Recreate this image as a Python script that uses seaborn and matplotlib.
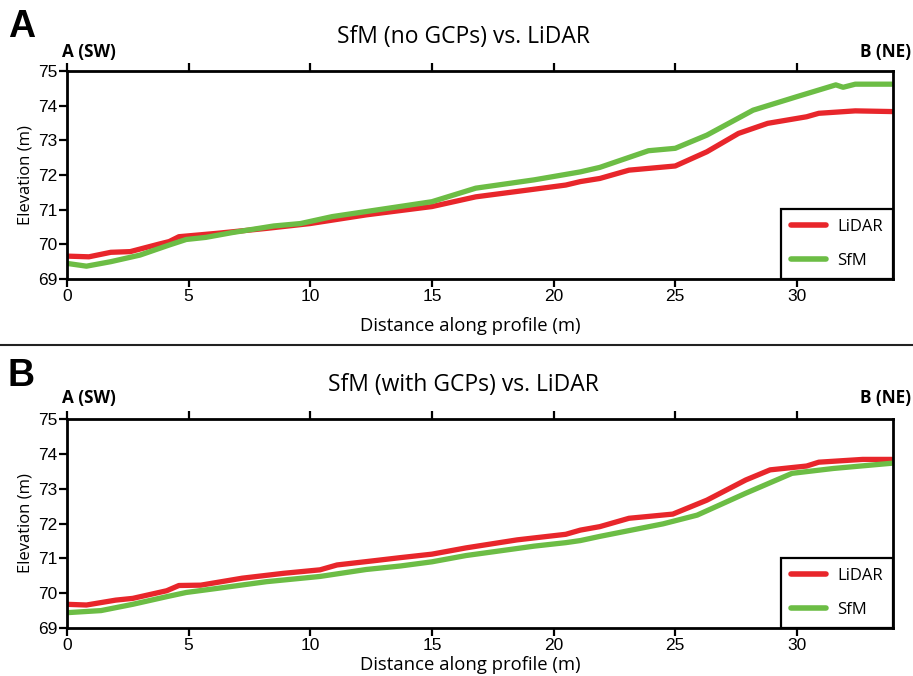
import numpy as np
import pandas as pd
import matplotlib
matplotlib.use("Agg")
import matplotlib.pyplot as plt
import seaborn as sns
from matplotlib.lines import Line2D

# ---------------- data ----------------
a_lidar_x = [0.0, 0.9, 1.8, 2.6, 3.8, 4.2, 4.6, 6.2, 8.2, 10.0, 12.3, 15.0, 16.8, 19.2, 20.5,
             21.1, 21.9, 23.1, 25.0, 26.3, 27.6, 28.8, 30.4, 30.9, 32.4, 33.9]
a_lidar_y = [69.66, 69.64, 69.77, 69.79, 70.01, 70.08, 70.22, 70.32, 70.46, 70.60, 70.85, 71.09,
             71.37, 71.59, 71.71, 71.81, 71.90, 72.14, 72.26, 72.67, 73.20, 73.49, 73.68, 73.78,
             73.85, 73.83]
a_sfm_x = [0.0, 0.8, 1.8, 3.0, 4.2, 4.9, 5.7, 6.8, 8.5, 9.6, 10.9, 13.1, 15.0, 16.8, 19.2,
           21.1, 21.9, 23.9, 25.0, 26.3, 28.2, 30.0, 31.6, 31.9, 32.4, 33.9]
a_sfm_y = [69.45, 69.37, 69.50, 69.69, 69.98, 70.14, 70.20, 70.34, 70.53, 70.60, 70.80, 71.03,
           71.23, 71.62, 71.86, 72.09, 72.22, 72.70, 72.77, 73.15, 73.87, 74.26, 74.60, 74.53,
           74.62, 74.62]

b_lidar_x = [0.0, 0.8, 2.0, 2.7, 4.1, 4.6, 5.5, 7.2, 8.9, 10.4, 11.1, 12.6, 13.7, 15.0, 16.4,
             18.5, 20.5, 21.1, 21.9, 23.1, 24.9, 26.3, 27.9, 28.9, 30.4, 30.9, 32.7, 33.9]
b_lidar_y = [69.68, 69.66, 69.80, 69.85, 70.07, 70.22, 70.23, 70.43, 70.57, 70.67, 70.81, 70.93,
             71.02, 71.12, 71.30, 71.53, 71.69, 71.81, 71.91, 72.15, 72.27, 72.67, 73.25, 73.54,
             73.65, 73.76, 73.84, 73.84]
b_sfm_x = [0.0, 1.4, 2.7, 4.1, 4.9, 6.2, 8.2, 10.4, 12.3, 13.7, 15.0, 16.4, 19.2, 20.5, 21.1,
           21.9, 24.5, 25.9, 27.9, 29.8, 31.5, 33.9]
b_sfm_y = [69.44, 69.50, 69.68, 69.90, 70.02, 70.14, 70.33, 70.48, 70.68, 70.78, 70.90, 71.08,
           71.35, 71.45, 71.51, 71.63, 71.99, 72.24, 72.87, 73.44, 73.58, 73.73]

series_names = ["LiDAR", "SfM"]
titles = ["SfM (no GCPs) vs. LiDAR", "SfM (with GCPs) vs. LiDAR"]
panel_letters = ["A", "B"]
y_ticks = [69, 70, 71, 72, 73, 74, 75]
x_ticks = [0, 5, 10, 15, 20, 25, 30]
colors = {"LiDAR": "#e8262b", "SfM": "#6cbd45"}


def make_df(lx, ly, sx, sy):
    return pd.concat([
        pd.DataFrame({"Distance": lx, "Elevation": ly, "Source": "LiDAR"}),
        pd.DataFrame({"Distance": sx, "Elevation": sy, "Source": "SfM"}),
    ], ignore_index=True)


dfs = [make_df(a_lidar_x, a_lidar_y, a_sfm_x, a_sfm_y),
       make_df(b_lidar_x, b_lidar_y, b_sfm_x, b_sfm_y)]

# ---------------- figure ----------------
sns.set_theme(style="white")
plt.rcParams["font.family"] = ["Liberation Sans", "DejaVu Sans"]
plt.rcParams["text.color"] = "black"
plt.rcParams["axes.labelcolor"] = "black"
plt.rcParams["xtick.color"] = "black"
plt.rcParams["ytick.color"] = "black"

fig = plt.figure(figsize=(9.13, 6.76), dpi=100)
W, H = 913, 676
boxes = [(67, 71, 893, 279), (67, 419, 893, 628)]
title_y = [37, 385]
letter_y = [27, 376]
ab_y = [52, 398]
xlabel_y = [326, 665]

label_font = "Open Sans"

for i, (l, t, r, b) in enumerate(boxes):
    ax = fig.add_axes([l / W, 1 - b / H, (r - l) / W, (b - t) / H])
    sns.lineplot(data=dfs[i], x="Distance", y="Elevation", hue="Source",
                 palette=colors, hue_order=series_names, linewidth=3.8,
                 errorbar=None, sort=True, ax=ax, legend=False)
    ax.set_xlim(0, 33.95)
    ax.set_ylim(69, 75)
    ax.set_xticks(x_ticks)
    ax.set_yticks(y_ticks)
    ax.set_xlabel("")
    ax.set_ylabel("Elevation (m)", fontsize=12, family=label_font, labelpad=3)
    for s in ax.spines.values():
        s.set_visible(True)
        s.set_color("black")
        s.set_linewidth(2.0)
    ax.tick_params(axis="both", which="both", direction="out", length=6, width=1.6,
                   color="black", labelsize=12.5, pad=1, labelcolor="black")
    ax.tick_params(axis="x", top=True, labeltop=False, bottom=True)
    ax.tick_params(axis="y", left=True, right=False)
    ax.grid(False)

    handles = [Line2D([0], [0], color=colors[n], lw=4) for n in series_names]
    leg = ax.legend(handles, series_names, loc="lower right", frameon=True,
                    fancybox=False, borderaxespad=0, handlelength=2.1,
                    handletextpad=0.7, labelspacing=1.1, borderpad=0.6,
                    prop={"family": label_font, "size": 12})
    leg.get_frame().set_edgecolor("black")
    leg.get_frame().set_linewidth(1.6)
    leg.get_frame().set_alpha(1)

    fig.text(463 / W, 1 - title_y[i] / H, titles[i], ha="center", va="center",
             fontsize=16.5, family=label_font)
    fig.text(470 / W, 1 - xlabel_y[i] / H, "Distance along profile (m)", ha="center",
             va="center", fontsize=13.3, family=label_font)
    fig.text(8 / W, 1 - letter_y[i] / H, panel_letters[i], ha="left", va="center",
             fontsize=27, fontweight="bold")
    fig.text(62 / W, 1 - ab_y[i] / H, "A (SW)", ha="left", va="center",
             fontsize=12.3, fontweight="bold", family=label_font)
    fig.text(911 / W, 1 - ab_y[i] / H, "B (NE)", ha="right", va="center",
             fontsize=12.3, fontweight="bold", family=label_font)

fig.add_artist(Line2D([0, 1], [1 - 345 / H, 1 - 345 / H], color="#222222", lw=1.5,
                      transform=fig.transFigure))

fig.savefig("out.png", dpi=100)
